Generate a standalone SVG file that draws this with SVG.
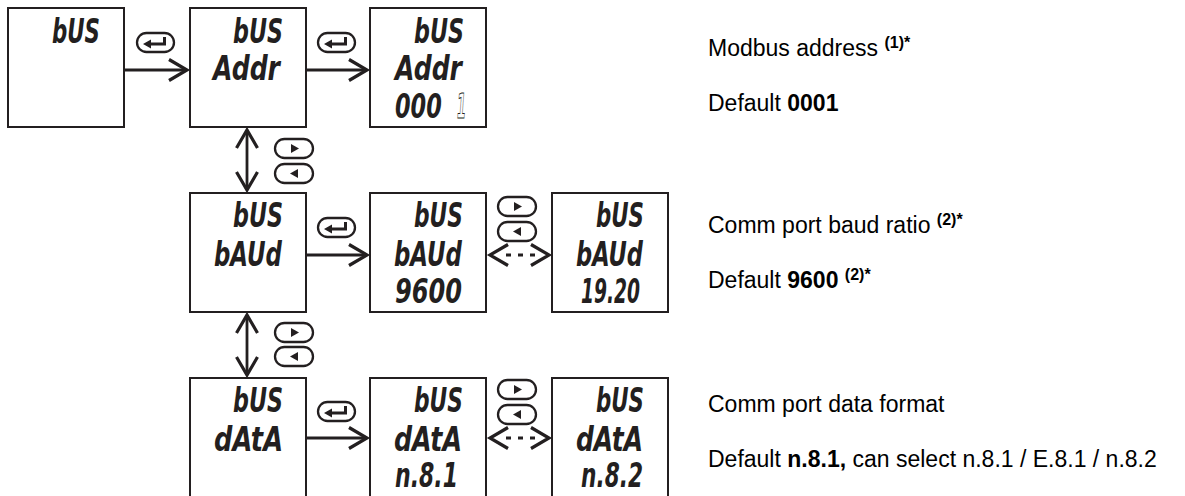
<svg xmlns="http://www.w3.org/2000/svg" xmlns:xlink="http://www.w3.org/1999/xlink" width="1185" height="496" viewBox="0 0 1185 496">
<style>
.box{fill:#fff;stroke:#231f20;stroke-width:2}
.lcd{font-family:"DejaVu Sans","Liberation Sans",sans-serif;font-weight:bold;font-style:oblique;font-size:34px;fill:#231f20}
.blink{fill:none;stroke:#231f20;stroke-width:1}
.conn{fill:none;stroke:#231f20;stroke-width:2.8}
.dash{stroke-dasharray:0 16 5 7 5 7 5 100}
.pill{fill:#fff;stroke:#231f20;stroke-width:2.3}
.glyph{fill:#231f20}
.lbl{font-family:"Liberation Sans",Arial,sans-serif;font-size:23px;fill:#000}
.sup{font-weight:bold;font-size:16px}
</style>
<defs>
<marker id="chev" viewBox="-21 -13 28 26" refX="0" refY="0" markerWidth="28" markerHeight="26" markerUnits="userSpaceOnUse" orient="auto-start-reverse">
<path d="M-18,-10.5 L0,0 L-18,10.5" fill="none" stroke="#231f20" stroke-width="3.2"/>
</marker>
<g id="btnEnter"><rect x="0" y="0" width="37" height="19" rx="9.5" class="pill"/><path class="glyph" d="M6,11 L14,6.5 L14,15.5 Z M14,9.5 H26 V4 H29 V12.5 H14 Z"/></g>
<g id="btnRight"><rect x="0" y="0" width="38" height="19" rx="9.5" class="pill"/><path class="glyph" d="M16,5 L24,9.5 L16,14 Z"/></g>
<g id="btnLeft"><rect x="0" y="0" width="38" height="19" rx="9.5" class="pill"/><path class="glyph" d="M23,5 L15,9.5 L23,14 Z"/></g>
</defs>
<rect width="1185" height="496" fill="#fff"/>

<g id="connectors">
<path class="conn" d="M125,70 H187" marker-end="url(#chev)"/>
<path class="conn" d="M307,70 H367" marker-end="url(#chev)"/>
<path class="conn" d="M307,255 H367" marker-end="url(#chev)"/>
<path class="conn" d="M307,438 H367" marker-end="url(#chev)"/>
<path class="conn" d="M247,130 V190" marker-start="url(#chev)" marker-end="url(#chev)"/>
<path class="conn" d="M247,315 V375" marker-start="url(#chev)" marker-end="url(#chev)"/>
<path class="conn dash" d="M490,255 H549" marker-start="url(#chev)" marker-end="url(#chev)"/>
<path class="conn dash" d="M490,438 H549" marker-start="url(#chev)" marker-end="url(#chev)"/>
<use xlink:href="#btnEnter" x="137" y="33"/>
<use xlink:href="#btnEnter" x="318" y="33"/>
<use xlink:href="#btnEnter" x="318" y="218"/>
<use xlink:href="#btnEnter" x="318" y="402"/>
<use xlink:href="#btnRight" x="275" y="139"/>
<use xlink:href="#btnLeft" x="275" y="164"/>
<use xlink:href="#btnRight" x="275" y="323"/>
<use xlink:href="#btnLeft" x="275" y="347"/>
<use xlink:href="#btnRight" x="498" y="197"/>
<use xlink:href="#btnLeft" x="498" y="222"/>
<use xlink:href="#btnRight" x="498" y="380"/>
<use xlink:href="#btnLeft" x="498" y="405"/>
</g>

<g id="node-bus">
<rect class="box" x="8" y="8" width="116" height="119"/>
<text class="lcd" x="52" y="43" textLength="48" lengthAdjust="spacingAndGlyphs">bUS</text>
</g>
<g id="node-bus-addr">
<rect class="box" x="190" y="8" width="116" height="119"/>
<text class="lcd" x="233" y="43" textLength="50" lengthAdjust="spacingAndGlyphs">bUS</text>
<text class="lcd" x="213" y="80" textLength="67" lengthAdjust="spacingAndGlyphs">Addr</text>
</g>
<g id="node-addr-value">
<rect class="box" x="370" y="8" width="116" height="119"/>
<text class="lcd" x="414" y="43" textLength="50" lengthAdjust="spacingAndGlyphs">bUS</text>
<text class="lcd" x="395" y="80" textLength="67" lengthAdjust="spacingAndGlyphs">Addr</text>
<text class="lcd" transform="translate(395,118) scale(0.66,1)">000</text>
<text class="lcd blink" x="457" y="118" textLength="9" lengthAdjust="spacingAndGlyphs">1</text>
</g>

<g id="node-bus-baud">
<rect class="box" x="190" y="193" width="116" height="119"/>
<text class="lcd" x="233" y="227" textLength="50" lengthAdjust="spacingAndGlyphs">bUS</text>
<text class="lcd" x="214" y="266" textLength="68" lengthAdjust="spacingAndGlyphs">bAUd</text>
</g>
<g id="node-baud-9600">
<rect class="box" x="370" y="193" width="116" height="119"/>
<text class="lcd" x="414" y="227" textLength="49" lengthAdjust="spacingAndGlyphs">bUS</text>
<text class="lcd" x="394" y="266" textLength="68" lengthAdjust="spacingAndGlyphs">bAUd</text>
<text class="lcd" x="395" y="303" textLength="67" lengthAdjust="spacingAndGlyphs">9600</text>
</g>
<g id="node-baud-1920">
<rect class="box" x="552" y="193" width="116" height="119"/>
<text class="lcd" x="596" y="227" textLength="48" lengthAdjust="spacingAndGlyphs">bUS</text>
<text class="lcd" x="576" y="266" textLength="67" lengthAdjust="spacingAndGlyphs">bAUd</text>
<text class="lcd" x="581" y="303" textLength="59" lengthAdjust="spacingAndGlyphs">19.20</text>
</g>

<g id="node-bus-data">
<rect class="box" x="190" y="378" width="116" height="119"/>
<text class="lcd" x="233" y="412" textLength="50" lengthAdjust="spacingAndGlyphs">bUS</text>
<text class="lcd" x="214" y="451" textLength="69" lengthAdjust="spacingAndGlyphs">dAtA</text>
</g>
<g id="node-data-n81">
<rect class="box" x="370" y="378" width="116" height="119"/>
<text class="lcd" x="414" y="412" textLength="49" lengthAdjust="spacingAndGlyphs">bUS</text>
<text class="lcd" x="394" y="451" textLength="68" lengthAdjust="spacingAndGlyphs">dAtA</text>
<text class="lcd" x="395" y="487" textLength="63" lengthAdjust="spacingAndGlyphs">n.8.1</text>
</g>
<g id="node-data-n82">
<rect class="box" x="552" y="378" width="116" height="119"/>
<text class="lcd" x="596" y="412" textLength="48" lengthAdjust="spacingAndGlyphs">bUS</text>
<text class="lcd" x="576" y="451" textLength="67" lengthAdjust="spacingAndGlyphs">dAtA</text>
<text class="lcd" x="581" y="487" textLength="62" lengthAdjust="spacingAndGlyphs">n.8.2</text>
</g>

<g id="labels">
<text class="lbl" x="708" y="56">Modbus address <tspan class="sup" dy="-8">(1)*</tspan></text>
<text class="lbl" x="708" y="111">Default <tspan font-weight="bold">0001</tspan></text>
<text class="lbl" x="708" y="233">Comm port baud ratio <tspan class="sup" dy="-8">(2)*</tspan></text>
<text class="lbl" x="708" y="288">Default <tspan font-weight="bold">9600</tspan> <tspan class="sup" dy="-8">(2)*</tspan></text>
<text class="lbl" x="708" y="412">Comm port data format</text>
<text class="lbl" x="708" y="467">Default <tspan font-weight="bold">n.8.1,</tspan> can select n.8.1 / E.8.1 / n.8.2</text>
</g>
</svg>
